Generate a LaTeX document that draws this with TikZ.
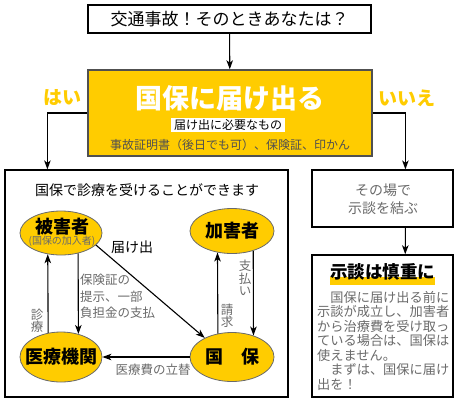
\documentclass[tikz,border=0pt]{standalone}
\usepackage{fontspec}
\setmainfont{Noto Sans CJK JP}
\usetikzlibrary{arrows.meta,shapes.geometric}
\definecolor{kiiro}{HTML}{FFCC00}
\definecolor{sumi}{HTML}{505050}
\definecolor{nezumi}{HTML}{6A6A6A}
\newcommand\jsize[1]{\fontsize{#1}{#1}\selectfont}

\tikzset{
  waku/.style={draw=black, line width=1.2pt, inner sep=0pt},
  daen/.style={ellipse, draw=nezumi, fill=kiiro, inner sep=0pt, line width=0.8pt},
  yaji/.style={-{Stealth[length=9pt,width=6.5pt,inset=2.5pt]}, line width=1.1pt},
  meisho/.style={font=\bfseries\jsize{18}, inner sep=0pt},
  setsumei/.style={text=nezumi, font=\jsize{12.5}, inner sep=0pt},
  tate/.style={setsumei, align=center, font=\fontsize{12.5}{12.5}\selectfont},
}

\begin{document}
\begin{tikzpicture}[x=1pt, y=-1pt]
  \useasboundingbox (0,0) rectangle (460,405);
  % 見出し
  \node[waku, minimum width=283, minimum height=28, font=\jsize{17}] (jiko) at (229.5,19) {交通事故！そのときあなたは？};
  \node[draw=sumi, line width=1.5pt, fill=kiiro, minimum width=284, minimum height=86] (todoke) at (230,113) {};
  \node[text=white, font=\bfseries\jsize{27}, inner sep=0pt] (todoke-t) at (230,98) {国保に届け出る};
  \node[fill=white, font=\jsize{12}, inner xsep=3pt, inner ysep=1.5pt] (hitsuyo) at (228,125) {届け出に必要なもの};
  \node[text=sumi, font=\jsize{12}, inner sep=0pt] (mono) at (230,145) {事故証明書（後日でも可）、保険証、印かん};
  \node[text=kiiro, font=\bfseries\jsize{19}] (hai) at (62,98) {はい};
  \node[text=kiiro, font=\bfseries\jsize{19}] (iie) at (407,98) {いいえ};

  % 左：国保で診療
  \node[waku, minimum width=283, minimum height=227] (shinryo) at (146.5,283.5) {};
  \node[font=\jsize{14}, inner sep=0pt] (shinryo-t) at (147,190) {国保で診療を受けることができます};
  \node[daen, minimum width=82, minimum height=44] (higai) at (61,233) {};
  \node[meisho] (higai-t) at (62,227) {被害者};
  \node[text=nezumi, font=\jsize{10}, inner sep=0pt] (higai-s) at (62,241) {(国保の加入者)};
  \node[daen, minimum width=84, minimum height=45] (kagai) at (232,231) {};
  \node[meisho] at (kagai) {加害者};
  \node[daen, minimum width=82, minimum height=50] (iryo) at (61,357) {};
  \node[meisho] at (iryo) {医療機関};
  \node[daen, minimum width=84, minimum height=49] (kokuho) at (232,357) {};
  \node[meisho] at (kokuho) {国　保};

  \draw[yaji] (iryo.118.7) -- (higai.238.1);
  \draw[yaji] (higai.310.3) -- (iryo.53.2);
  \draw[yaji] (higai.341) -- (kokuho.145);
  \draw[yaji] (kokuho.west) -- (iryo.east);
  \draw[yaji] (kokuho.121.2) -- (kagai.236.6);
  \draw[yaji] (kagai.317.1) -- (kokuho.45.3);

  \node[font=\jsize{14}, inner sep=0pt] (todokede) at (132,247) {届け出};
  \node[setsumei, anchor=north west, align=left, font=\fontsize{12.5}{16.5}\selectfont] (teiji) at (80,274) {保険証の\\提示、一部\\負担金の支払};
  \node[tate] (shinryo-l) at (37,321) {診\\療};
  \node[setsumei] (tatekae) at (153,370) {医療費の立替};
  \node[tate] (shiharai) at (245,278) {支\\払\\い};
  \node[tate] (seikyu) at (227,316) {請\\求};

  % 右：示談
  \node[waku, minimum width=141, minimum height=57] (jidan) at (382.5,198.5) {};
  \node[text=nezumi, align=center, font=\fontsize{14}{18}\selectfont, inner sep=0pt] (jidan-t) at (383,199) {その場で\\示談を結ぶ};
  \node[waku, line width=1.5pt, minimum width=141, minimum height=142] (shincho) at (382.5,326) {};
  \fill[kiiro] (330,277) rectangle (435,285);
  \node[font=\bfseries\jsize{17.5}, inner sep=0pt] (shincho-t) at (382.5,272) {示談は慎重に};
  \node[setsumei, anchor=north west, align=left, font=\fontsize{13.2}{14.5}\selectfont] (chui) at (317,291)
    {　国保に届け出る前に\\示談が成立し、加害者\\から治療費を受け取っ\\ている場合は、国保は\\使えません。\\　まずは、国保に届け\\出を！};

  \draw[yaji] (jiko) -- (todoke);
  \draw[yaji] (todoke.west) -| ([xshift=43pt]shinryo.north west);
  \draw[yaji] (todoke.east) -| ([xshift=94pt]jidan.north west);
  \draw[yaji] ([xshift=94pt]jidan.south west) -- ([xshift=94pt]shincho.north west);
\end{tikzpicture}
\end{document}
